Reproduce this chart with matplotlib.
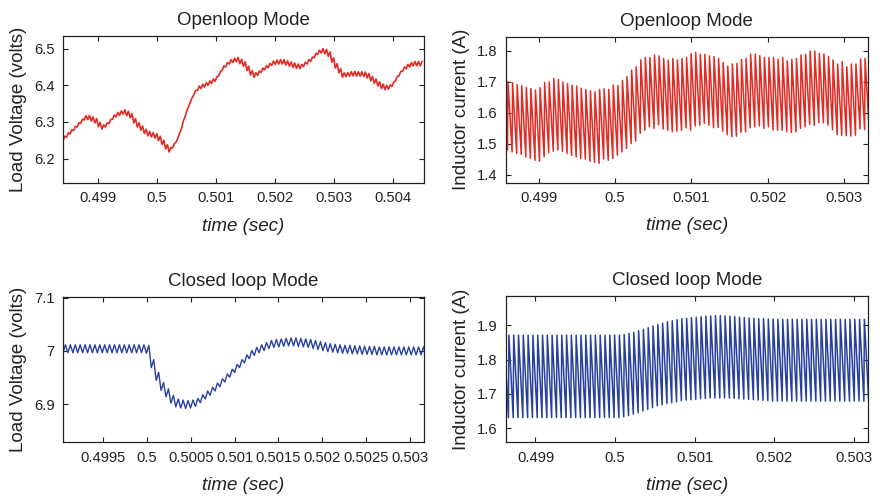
import matplotlib.pyplot as plt

plt.rcParams['font.family'] = ['Liberation Sans', 'DejaVu Sans']

RED = '#e02c24'
BLUE = '#2a409f'

# ---- Openloop load voltage: value of the curve at the start of every ripple cycle
ol_v_t0 = 0.49841
ol_v_period = 6.0e-5
ol_v_ripple = 0.006
ol_v_centre = [6.255, 6.264, 6.273, 6.282, 6.292, 6.302, 6.311, 6.312, 6.308, 6.303,
               6.293, 6.286, 6.292, 6.301, 6.313, 6.320, 6.324, 6.327, 6.323, 6.317,
               6.303, 6.292, 6.283, 6.274, 6.268, 6.265, 6.262, 6.255, 6.244, 6.232,
               6.224, 6.235, 6.251, 6.276, 6.308, 6.336, 6.360, 6.380, 6.392, 6.397,
               6.401, 6.406, 6.411, 6.417, 6.432, 6.447, 6.456, 6.464, 6.468, 6.470,
               6.465, 6.458, 6.446, 6.434, 6.428, 6.433, 6.441, 6.448, 6.454, 6.460,
               6.463, 6.464, 6.464, 6.461, 6.458, 6.455, 6.452, 6.451, 6.457, 6.464,
               6.471, 6.481, 6.490, 6.494, 6.492, 6.485, 6.469, 6.453, 6.440, 6.428,
               6.429, 6.431, 6.432, 6.431, 6.431, 6.430, 6.426, 6.418, 6.411, 6.404,
               6.397, 6.394, 6.395, 6.403, 6.418, 6.432, 6.444, 6.451, 6.456, 6.459,
               6.459, 6.459]

# ---- Openloop inductor current: trough and peak of every switching cycle
ol_i_t0 = 0.49853
ol_i_period = 6.0e-5
ol_i_high = [1.702,
             1.700, 1.697, 1.690, 1.687, 1.681, 1.678, 1.673, 1.681, 1.697, 1.699,
             1.710, 1.707, 1.699, 1.694, 1.689, 1.686, 1.678, 1.675, 1.670, 1.667,
             1.675, 1.677, 1.675, 1.689, 1.687, 1.704, 1.716, 1.737, 1.748, 1.770,
             1.778, 1.778, 1.786, 1.783, 1.775, 1.769, 1.775, 1.770, 1.775, 1.778,
             1.791, 1.794, 1.788, 1.788, 1.783, 1.781, 1.775, 1.762, 1.750, 1.757,
             1.759, 1.772, 1.775, 1.789, 1.789, 1.784, 1.778, 1.778, 1.778, 1.772,
             1.778, 1.767, 1.772, 1.775, 1.786, 1.788, 1.799, 1.799, 1.791, 1.789,
             1.781, 1.770, 1.757, 1.764, 1.748, 1.757, 1.757, 1.773, 1.775, 1.775]
ol_i_low = [1.485,
            1.479, 1.473, 1.468, 1.465, 1.457, 1.452, 1.446, 1.443, 1.457, 1.471,
            1.475, 1.479, 1.475, 1.468, 1.462, 1.457, 1.452, 1.450, 1.443, 1.439,
            1.436, 1.450, 1.446, 1.452, 1.462, 1.473, 1.484, 1.500, 1.508, 1.533,
            1.543, 1.554, 1.549, 1.560, 1.547, 1.543, 1.538, 1.540, 1.543, 1.551,
            1.543, 1.557, 1.559, 1.565, 1.559, 1.551, 1.552, 1.540, 1.529, 1.522,
            1.524, 1.536, 1.538, 1.551, 1.554, 1.557, 1.549, 1.554, 1.543, 1.543,
            1.543, 1.538, 1.536, 1.538, 1.549, 1.554, 1.562, 1.559, 1.567, 1.567,
            1.559, 1.545, 1.529, 1.527, 1.525, 1.524, 1.527, 1.547, 1.545, 1.545]

# ---- Closed loop load voltage
cl_v_t0 = 0.49904
cl_v_period = 5.6e-5
cl_v_ripple = 0.0075
cl_v_centre = ([7.004] * 17 +
               [7.003, 6.976, 6.952, 6.933, 6.921, 6.909, 6.902, 6.900, 6.899, 6.900,
                6.903, 6.910, 6.917, 6.924, 6.932, 6.940, 6.949, 6.958, 6.967, 6.976,
                6.985, 6.993, 6.999, 7.004, 7.008, 7.012, 7.014, 7.015, 7.016, 7.017,
                7.017, 7.016, 7.015, 7.014, 7.012, 7.010, 7.008, 7.006, 7.005, 7.004,
                7.003, 7.003, 7.002, 7.002, 7.001, 7.001, 7.001, 7.000, 7.000] +
               [7.000] * 9)

# ---- Closed loop inductor current
cl_i_t0 = 0.49860
cl_i_period = 6.03e-5
cl_i_high = ([1.871] * 25 +
             [1.873, 1.876, 1.879, 1.884, 1.888, 1.893, 1.898, 1.902, 1.906, 1.910,
              1.913, 1.916, 1.919, 1.920,
              1.922, 1.923, 1.925, 1.926, 1.927, 1.928, 1.928, 1.927, 1.926, 1.925,
              1.923, 1.922, 1.921, 1.920, 1.919, 1.919, 1.918, 1.918, 1.917] +
             [1.917] * 19)
cl_i_low = ([1.631] * 25 +
            [1.633, 1.637, 1.641, 1.645, 1.650, 1.655, 1.660, 1.665, 1.668, 1.672,
             1.674, 1.677, 1.680, 1.682,
             1.683, 1.684, 1.686, 1.687, 1.688, 1.688, 1.688, 1.688, 1.688, 1.687,
             1.686, 1.685, 1.684, 1.683, 1.682, 1.681, 1.680, 1.679] +
            [1.679] * 20)

# ---- axes ranges and ticks
ol_v_xlim, ol_v_ylim = (0.49841, 0.50453), (6.133, 6.534)
ol_v_xticks = [0.499, 0.5, 0.501, 0.502, 0.503, 0.504]
ol_v_xlabels = ['0.499', '0.5', '0.501', '0.502', '0.503', '0.504']
ol_v_yticks = [6.2, 6.3, 6.4, 6.5]
ol_v_ylabels = ['6.2', '6.3', '6.4', '6.5']

ol_i_xlim, ol_i_ylim = (0.49857, 0.50331), (1.374, 1.845)
ol_i_xticks = [0.499, 0.5, 0.501, 0.502, 0.503]
ol_i_xlabels = ['0.499', '0.5', '0.501', '0.502', '0.503']
ol_i_yticks = [1.4, 1.5, 1.6, 1.7, 1.8]
ol_i_ylabels = ['1.4', '1.5', '1.6', '1.7', '1.8']

cl_v_xlim, cl_v_ylim = (0.49904, 0.50316), (6.828, 7.102)
cl_v_xticks = [0.4995, 0.5, 0.5005, 0.501, 0.5015, 0.502, 0.5025, 0.503]
cl_v_xlabels = ['0.4995', '0.5', '0.5005', '0.501', '0.5015', '0.502', '0.5025', '0.503']
cl_v_yticks = [6.9, 7.0, 7.1]
cl_v_ylabels = ['6.9', '7', '7.1']

cl_i_xlim, cl_i_ylim = (0.49863, 0.50317), (1.559, 1.986)
cl_i_xticks = [0.499, 0.5, 0.501, 0.502, 0.503]
cl_i_xlabels = ['0.499', '0.5', '0.501', '0.502', '0.503']
cl_i_yticks = [1.6, 1.7, 1.8, 1.9]
cl_i_ylabels = ['1.6', '1.7', '1.8', '1.9']


def ripple_wave(t0, period, centre, amp):
    # low point at the start of each cycle, high point half way through
    t, v = [], []
    for k, c in enumerate(centre):
        t += [t0 + k * period, t0 + (k + 0.5) * period]
        v += [c - amp, c + amp]
    return t, v


def sawtooth_wave(t0, period, lows, highs, rise=0.1):
    # fast rise from trough to peak, slow decay to the next trough
    t, v = [], []
    for k, (lo, hi) in enumerate(zip(lows, highs)):
        t += [t0 + k * period, t0 + (k + rise) * period]
        v += [lo, hi]
    return t, v


def style_axes(ax, title, ylabel, xlim, ylim, xticks, xlabels, yticks, ylabels):
    ax.set_xlim(*xlim)
    ax.set_ylim(*ylim)
    ax.set_xticks(xticks)
    ax.set_xticklabels(xlabels)
    ax.set_yticks(yticks)
    ax.set_yticklabels(ylabels)
    ax.tick_params(direction='in', length=3.5, width=0.8, top=True, right=True,
                   labelsize=10.6, colors='#222222', pad=6)
    for s in ax.spines.values():
        s.set_linewidth(0.9)
        s.set_color('#222222')
    ax.set_title(title, fontsize=13.5, color='#222222', pad=8)
    ax.set_ylabel(ylabel, fontsize=13.5, color='#222222', labelpad=5)
    ax.set_xlabel('time (sec)', fontsize=13.5, style='italic', color='#222222', labelpad=9)


fig = plt.figure(figsize=(8.8, 5.03), dpi=100)
ax_tl = fig.add_axes([0.0716, 0.636, 0.410, 0.292])
ax_tr = fig.add_axes([0.575, 0.637, 0.411, 0.290])
ax_bl = fig.add_axes([0.0716, 0.1207, 0.410, 0.2895])
ax_br = fig.add_axes([0.575, 0.1207, 0.411, 0.2915])

t, v = ripple_wave(ol_v_t0, ol_v_period, ol_v_centre, ol_v_ripple)
ax_tl.plot(t, v, color=RED, lw=1.2)
style_axes(ax_tl, 'Openloop Mode', 'Load Voltage (volts)', ol_v_xlim, ol_v_ylim,
           ol_v_xticks, ol_v_xlabels, ol_v_yticks, ol_v_ylabels)

t, v = sawtooth_wave(ol_i_t0, ol_i_period, ol_i_low, ol_i_high)
ax_tr.plot(t, v, color=RED, lw=1.1)
style_axes(ax_tr, 'Openloop Mode', 'Inductor current (A)', ol_i_xlim, ol_i_ylim,
           ol_i_xticks, ol_i_xlabels, ol_i_yticks, ol_i_ylabels)

t, v = ripple_wave(cl_v_t0, cl_v_period, cl_v_centre, cl_v_ripple)
ax_bl.plot(t, v, color=BLUE, lw=1.0)
style_axes(ax_bl, 'Closed loop Mode', 'Load Voltage (volts)', cl_v_xlim, cl_v_ylim,
           cl_v_xticks, cl_v_xlabels, cl_v_yticks, cl_v_ylabels)

t, v = sawtooth_wave(cl_i_t0, cl_i_period, cl_i_low, cl_i_high)
ax_br.plot(t, v, color=BLUE, lw=1.1)
style_axes(ax_br, 'Closed loop Mode', 'Inductor current (A)', cl_i_xlim, cl_i_ylim,
           cl_i_xticks, cl_i_xlabels, cl_i_yticks, cl_i_ylabels)

fig.savefig('out.png', dpi=100)
